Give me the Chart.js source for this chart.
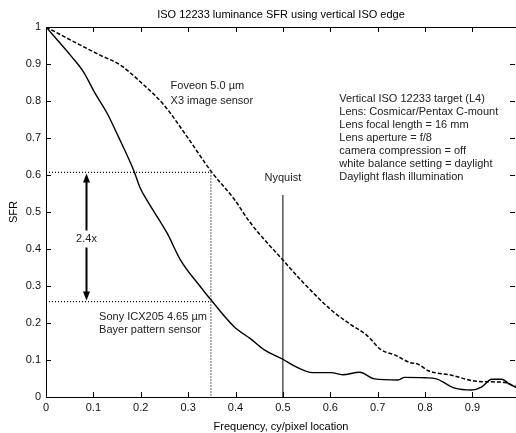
<!DOCTYPE html>
<html>
<head>
<meta charset="utf-8">
<script src="https://cdn.jsdelivr.net/npm/chart.js@4/dist/chart.umd.min.js"></script>
<style>
  html, body { margin: 0; padding: 0; background: #fff; }
  #wrap { width: 516px; height: 433px; }
</style>
</head>
<body>
<div id="wrap"><canvas id="sfr"></canvas></div>
<script>
// values
const sonyFreq = [0, 0.054, 0.079, 0.104, 0.129, 0.153, 0.185, 0.199, 0.213, 0.256, 0.284, 0.326, 0.351, 0.397, 0.432, 0.46, 0.5, 0.524, 0.563, 0.602, 0.626, 0.662, 0.693, 0.743, 0.757, 0.8, 0.824, 0.863, 0.898, 0.919, 0.941, 0.962, 0.979, 0.992];
const sonySfr  = [1.0, 0.92, 0.879, 0.82, 0.767, 0.703, 0.613, 0.564, 0.532, 0.442, 0.37, 0.298, 0.258, 0.19, 0.157, 0.128, 0.102, 0.084, 0.066, 0.066, 0.06, 0.067, 0.049, 0.046, 0.053, 0.052, 0.049, 0.024, 0.019, 0.027, 0.048, 0.048, 0.034, 0.026];

const foveonFreq = [0, 0.065, 0.114, 0.157, 0.199, 0.249, 0.298, 0.349, 0.397, 0.43, 0.5, 0.538, 0.602, 0.644, 0.676, 0.708, 0.736, 0.768, 0.785, 0.807, 0.856, 0.905, 0.941, 0.969, 0.992];
const foveonSfr  = [1.0, 0.956, 0.924, 0.897, 0.852, 0.789, 0.703, 0.609, 0.535, 0.473, 0.37, 0.316, 0.235, 0.195, 0.168, 0.127, 0.114, 0.093, 0.089, 0.071, 0.059, 0.043, 0.041, 0.039, 0.028];

const xTicks = [0, 0.1, 0.2, 0.3, 0.4, 0.5, 0.6, 0.7, 0.8, 0.9];
const yTicks = [0, 0.1, 0.2, 0.3, 0.4, 0.5, 0.6, 0.7, 0.8, 0.9, 1];

// marker lines
const markFreq = 0.348;
const foveonAtMark = 0.607;
const sonyAtMark = 0.258;
const nyquist = 0.5;
const nyquistTop = 0.546;
const arrowFreq = 0.084;

const infoLines = [
  'Vertical ISO 12233 target (L4)',
  'Lens: Cosmicar/Pentax C-mount',
  'Lens focal length = 16 mm',
  'Lens aperture = f/8',
  'camera compression = off',
  'white balance setting = daylight',
  'Daylight flash illumination'
];

const FONT = '11px "Liberation Sans", Arial, sans-serif';

function pts(xs, ys) {
  return xs.map((x, i) => ({x: x, y: ys[i]}));
}

// frame, inward ticks, arrow and text labels
const decor = {
  id: 'decor',
  afterDraw(chart) {
    const ctx = chart.ctx;
    const a = chart.chartArea;
    const xs = chart.scales.x, ys = chart.scales.y;
    ctx.save();
    ctx.strokeStyle = '#000';
    ctx.lineWidth = 1;
    ctx.beginPath();
    ctx.moveTo(a.left + 0.5, a.top + 0.5);
    ctx.lineTo(a.right, a.top + 0.5);
    ctx.moveTo(a.left + 0.5, a.top);
    ctx.lineTo(a.left + 0.5, a.bottom + 0.5);
    ctx.lineTo(a.right, a.bottom + 0.5);
    const tl = 5;
    xTicks.forEach(v => {
      const px = Math.round(xs.getPixelForValue(v)) + 0.5;
      ctx.moveTo(px, a.bottom); ctx.lineTo(px, a.bottom - tl);
      ctx.moveTo(px, a.top); ctx.lineTo(px, a.top + tl);
    });
    yTicks.forEach(v => {
      const py = Math.round(ys.getPixelForValue(v)) + 0.5;
      ctx.moveTo(a.left, py); ctx.lineTo(a.left + tl, py);
      ctx.moveTo(a.right - 1, py); ctx.lineTo(a.right - 1 - tl, py);
    });
    ctx.stroke();

    // double arrow
    const ax = Math.round(xs.getPixelForValue(arrowFreq)) + 0.5;
    const top = ys.getPixelForValue(foveonAtMark);
    const bot = ys.getPixelForValue(sonyAtMark);
    const mid = ys.getPixelForValue(0.426);
    ctx.lineWidth = 2;
    ctx.beginPath();
    ctx.moveTo(ax, top + 8); ctx.lineTo(ax, mid - 9);
    ctx.moveTo(ax, mid + 8); ctx.lineTo(ax, bot - 8);
    ctx.stroke();
    ctx.fillStyle = '#000';
    ctx.beginPath();
    ctx.moveTo(ax, top + 1); ctx.lineTo(ax - 3.5, top + 10); ctx.lineTo(ax + 3.5, top + 10);
    ctx.closePath(); ctx.fill();
    ctx.beginPath();
    ctx.moveTo(ax, bot - 1); ctx.lineTo(ax - 3.5, bot - 10); ctx.lineTo(ax + 3.5, bot - 10);
    ctx.closePath(); ctx.fill();

    ctx.font = FONT;
    ctx.fillStyle = '#222';
    ctx.textBaseline = 'middle';
    ctx.textAlign = 'center';
    ctx.fillText('2.4x', ax, mid);
    ctx.fillText('Nyquist', xs.getPixelForValue(nyquist), ys.getPixelForValue(0.591));
    ctx.fillStyle = '#000';
    ctx.fillText('ISO 12233 luminance SFR using vertical ISO edge', (a.left + a.right) / 2, 15);
    ctx.fillText('Frequency, cy/pixel location', (a.left + a.right) / 2, 427);
    ctx.save();
    ctx.translate(14, (a.top + a.bottom) / 2);
    ctx.rotate(-Math.PI / 2);
    ctx.fillText('SFR', 0, 0);
    ctx.restore();

    ctx.fillStyle = '#222';
    ctx.textAlign = 'left';
    const fx = xs.getPixelForValue(0.263);
    ctx.fillText('Foveon 5.0 \u00b5m', fx, ys.getPixelForValue(0.84));
    ctx.fillText('X3 image sensor', fx, ys.getPixelForValue(0.80));
    const sx = xs.getPixelForValue(0.112);
    ctx.fillText('Sony ICX205 4.65 \u00b5m', sx, ys.getPixelForValue(0.215));
    ctx.fillText('Bayer pattern sensor', sx, ys.getPixelForValue(0.18));
    const ix = xs.getPixelForValue(0.619);
    const iy = ys.getPixelForValue(0.805);
    infoLines.forEach((t, i) => ctx.fillText(t, ix, iy + i * 13));
    ctx.restore();
  }
};

new Chart(document.getElementById('sfr'), {
  type: 'line',
  data: {
    datasets: [
      {
        label: 'Sony ICX205',
        data: pts(sonyFreq, sonySfr),
        borderColor: '#000',
        borderWidth: 1.4,
        pointRadius: 0,
        cubicInterpolationMode: 'monotone'
      },
      {
        label: 'Foveon X3',
        data: pts(foveonFreq, foveonSfr),
        borderColor: '#000',
        borderWidth: 1.5,
        borderDash: [4, 2],
        pointRadius: 0,
        cubicInterpolationMode: 'monotone'
      },
      {
        label: 'foveon mark',
        data: [{x: 0, y: foveonAtMark}, {x: markFreq, y: foveonAtMark}, {x: markFreq, y: 0}],
        borderColor: '#000',
        borderWidth: 1.2,
        borderDash: [1, 2],
        pointRadius: 0,
        tension: 0
      },
      {
        label: 'sony mark',
        data: [{x: 0, y: sonyAtMark}, {x: markFreq, y: sonyAtMark}],
        borderColor: '#000',
        borderWidth: 1.2,
        borderDash: [1, 2],
        pointRadius: 0,
        tension: 0
      },
      {
        label: 'Nyquist',
        data: [{x: nyquist, y: 0}, {x: nyquist, y: nyquistTop}],
        borderColor: '#000',
        borderWidth: 1,
        pointRadius: 0,
        tension: 0
      }
    ]
  },
  options: {
    responsive: true,
    maintainAspectRatio: false,
    animation: false,
    layout: { padding: { top: 27, right: 0, left: 0, bottom: 0 } },
    plugins: {
      legend: { display: false },
      tooltip: { enabled: false },
      title: { display: false }
    },
    scales: {
      x: {
        type: 'linear',
        min: 0,
        max: 0.992,
        afterFit: s => { s.height = 36; },
        afterBuildTicks: s => { s.ticks = xTicks.map(v => ({value: v})); },
        grid: { display: false, drawTicks: false },
        border: { display: false },
        ticks: {
          padding: 4,
          color: '#111',
          font: { family: '"Liberation Sans", Arial, sans-serif', size: 11 },
          maxRotation: 0,
          callback: v => String(Math.round(v * 10) / 10)
        }
      },
      y: {
        min: 0,
        max: 1,
        afterFit: s => { s.width = 46; },
        afterBuildTicks: s => { s.ticks = yTicks.map(v => ({value: v})); },
        grid: { display: false, drawTicks: false },
        border: { display: false },
        ticks: {
          padding: 5,
          color: '#111',
          font: { family: '"Liberation Sans", Arial, sans-serif', size: 11 },
          callback: v => String(Math.round(v * 10) / 10)
        }
      }
    }
  },
  plugins: [decor]
});
</script>
</body>
</html>
